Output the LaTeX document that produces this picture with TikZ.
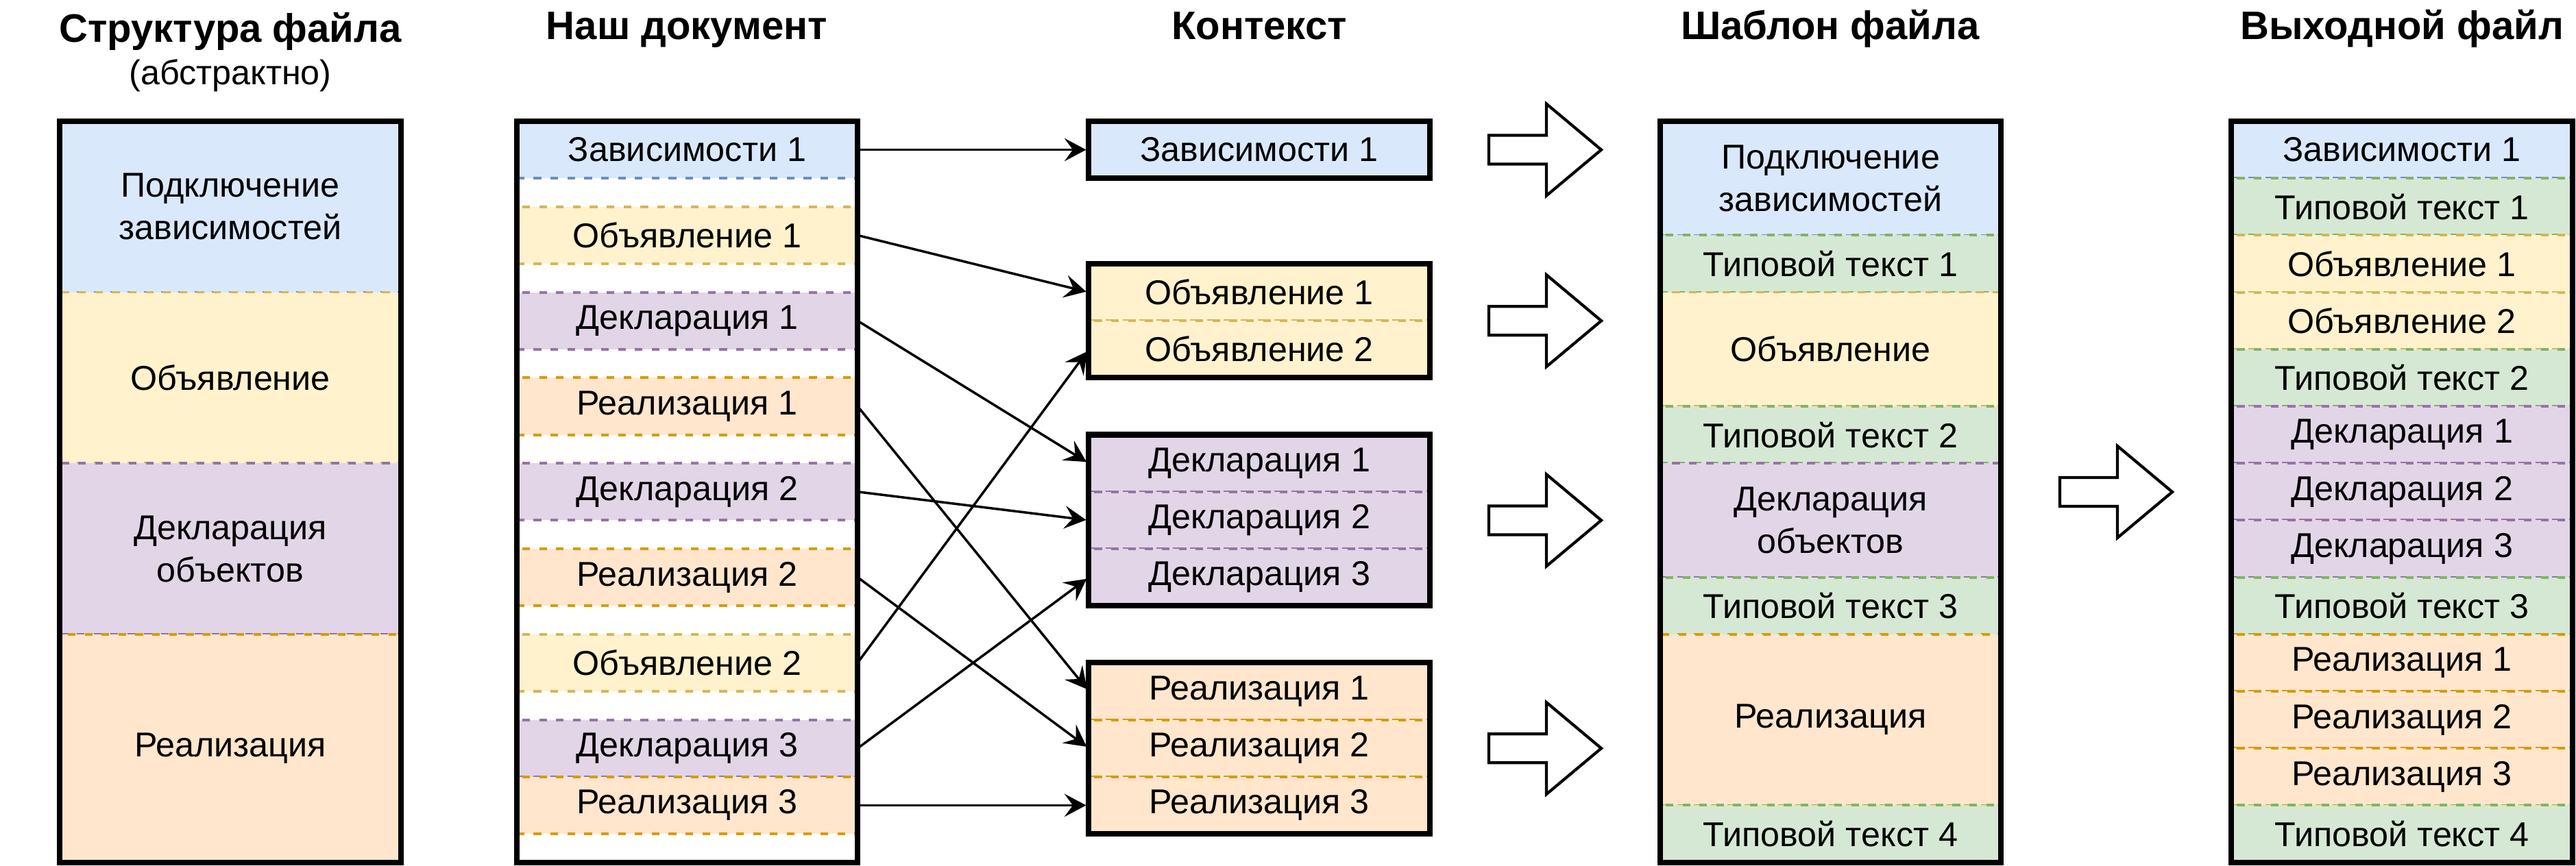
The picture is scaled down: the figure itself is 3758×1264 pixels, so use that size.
\documentclass[tikz,border=0pt]{standalone}
\usepackage{fontspec}
\setmainfont{Liberation Sans}
\usepackage{xcolor}
\usepackage{tikz}
\usetikzlibrary{arrows.meta}
\definecolor{fdep}{HTML}{DAE8FC}
\definecolor{ldep}{HTML}{6C8EBF}
\definecolor{fann}{HTML}{FFF2CC}
\definecolor{lann}{HTML}{D6B656}
\definecolor{fdecl}{HTML}{E1D5E7}
\definecolor{ldecl}{HTML}{9673A6}
\definecolor{fimpl}{HTML}{FFE6CC}
\definecolor{limpl}{HTML}{D79B00}
\definecolor{fboil}{HTML}{D5E8D4}
\definecolor{lboil}{HTML}{82B366}

\begin{document}
\begin{tikzpicture}[x=0.01cm, y=-0.01cm,
    sec/.style={rectangle, draw=l#1, fill=f#1, dash pattern=on 3.2pt off 3.8pt,
                line width=1.1pt, minimum width=4.97cm, inner sep=0pt, outer sep=0pt,
                align=center, font=\fontsize{14.3}{17.6}\selectfont},
    h2/.style={minimum height=0.832cm},
    h4/.style={minimum height=1.664cm},
    h6/.style={minimum height=2.496cm},
    h8/.style={minimum height=3.328cm},
    frame/.style={draw, line width=2.3pt, minimum width=4.97cm, inner sep=0pt},
    title/.style={font=\fontsize{16.5}{19}\selectfont\bfseries, anchor=base},
    link/.style={-{Stealth[length=9pt, width=9.5pt, inset=3.5pt]}, line width=1pt, shorten >=1.1pt},
    fat/.style={draw, line width=1.2pt, fill=white}]
  \useasboundingbox (0,0) rectangle (3758,1264);

  % headings
  \node[title] (h-struct) at (336,62) {Структура файла};
  \node[anchor=base, font=\fontsize{14.3}{17}\selectfont] (h-abstract) at (336,124) {(абстрактно)};
  \node[title] (h-doc) at (1002,58) {Наш документ};
  \node[title] (h-ctx) at (1837,58) {Контекст};
  \node[title] (h-tmpl) at (2670,58) {Шаблон файла};
  \node[title] (h-out) at (3504,58) {Выходной файл};

  % abstract structure
  \node[sec=dep, h6] (s-dep) at (336,301.8) {Подключение\\зависимостей};
  \node[sec=ann, h6] (s-ann) at (336,551.4) {Объявление};
  \node[sec=decl, h6] (s-decl) at (336,801) {Декларация\\объектов};
  \node[sec=impl, h8] (s-impl) at (336,1092.2) {Реализация};
  \node[frame, minimum height=10.82cm] (f-struct) at (336,718) {};

  % our document
  \node[sec=dep, h2] (d-dep1) at (1002.5,218.6) {Зависимости 1};
  \node[sec=ann, h2] (d-ann1) at (1002.5,343.4) {Объявление 1};
  \node[sec=decl, h2] (d-decl1) at (1002.5,468.2) {Декларация 1};
  \node[sec=impl, h2] (d-impl1) at (1002.5,593) {Реализация 1};
  \node[sec=decl, h2] (d-decl2) at (1002.5,717.8) {Декларация 2};
  \node[sec=impl, h2] (d-impl2) at (1002.5,842.6) {Реализация 2};
  \node[sec=ann, h2] (d-ann2) at (1002.5,967.4) {Объявление 2};
  \node[sec=decl, h2] (d-decl3) at (1002.5,1092.2) {Декларация 3};
  \node[sec=impl, h2] (d-impl3) at (1002.5,1175.4) {Реализация 3};
  \node[frame, minimum height=10.82cm] (f-doc) at (1002.5,718) {};

  % context
  \node[sec=dep, h2] (c-dep1) at (1837,218.6) {Зависимости 1};
  \node[frame, h2] (f-cdep) at (1837,218.6) {};
  \node[sec=ann, h2] (c-ann1) at (1837,426.6) {Объявление 1};
  \node[sec=ann, h2] (c-ann2) at (1837,509.8) {Объявление 2};
  \node[frame, h4] (f-cann) at (1837,468.2) {};
  \node[sec=decl, h2] (c-decl1) at (1837,676.2) {Декларация 1};
  \node[sec=decl, h2] (c-decl2) at (1837,759.4) {Декларация 2};
  \node[sec=decl, h2] (c-decl3) at (1837,842.6) {Декларация 3};
  \node[frame, h6] (f-cdecl) at (1837,759.4) {};
  \node[sec=impl, h2] (c-impl1) at (1837,1009) {Реализация 1};
  \node[sec=impl, h2] (c-impl2) at (1837,1092.2) {Реализация 2};
  \node[sec=impl, h2] (c-impl3) at (1837,1175.4) {Реализация 3};
  \node[frame, h6] (f-cimpl) at (1837,1092.2) {};

  % template
  \node[sec=dep, h4] (t-dep) at (2670.5,260.2) {Подключение\\зависимостей};
  \node[sec=boil, h2] (t-boil1) at (2670.5,385) {Типовой текст 1};
  \node[sec=ann, h4] (t-ann) at (2670.5,509.8) {Объявление};
  \node[sec=boil, h2] (t-boil2) at (2670.5,634.6) {Типовой текст 2};
  \node[sec=decl, h4] (t-decl) at (2670.5,759.4) {Декларация\\объектов};
  \node[sec=boil, h2] (t-boil3) at (2670.5,884.2) {Типовой текст 3};
  \node[sec=impl, h6] (t-impl) at (2670.5,1050.6) {Реализация};
  \node[sec=boil, h2] (t-boil4) at (2670.5,1217) {Типовой текст 4};
  \node[frame, minimum height=10.82cm] (f-tmpl) at (2670.5,718) {};

  % output
  \foreach \txt/\kind [count=\i from 0] in {Зависимости 1/dep, Типовой текст 1/boil,
      Объявление 1/ann, Объявление 2/ann, Типовой текст 2/boil, Декларация 1/decl,
      Декларация 2/decl, Декларация 3/decl, Типовой текст 3/boil, Реализация 1/impl,
      Реализация 2/impl, Реализация 3/impl, Типовой текст 4/boil}
    \node[sec=\kind, h2] (o-\i) at (3504,{177+(2*\i+1)*41.6}) {\txt};
  \node[frame, minimum height=10.82cm] (f-out) at (3504,718) {};

  % links
  \draw[link] (d-dep1.east) -- (c-dep1.west);
  \draw[link] (d-ann1.east) -- (c-ann1.west);
  \draw[link] (d-decl1.east) -- (c-decl1.west);
  \draw[link] (d-impl1.east) -- (c-impl1.west);
  \draw[link] (d-decl2.east) -- (c-decl2.west);
  \draw[link] (d-impl2.east) -- (c-impl2.west);
  \draw[link] (d-ann2.east) -- (c-ann2.west);
  \draw[link] (d-decl3.east) -- (c-decl3.west);
  \draw[link] (d-impl3.east) -- (c-impl3.west);

  % block arrows
  \foreach \ay in {218.6, 468.2, 759.4, 1092.2}
    \draw[fat] (2172,\ay) ++(0,-21) -- ++(84,0) -- ++(0,-46) -- ++(80,67)
      -- ++(-80,67) -- ++(0,-46) -- ++(-84,0) -- cycle;
  \draw[fat] (3005,718) ++(0,-21) -- ++(84,0) -- ++(0,-46) -- ++(80,67)
    -- ++(-80,67) -- ++(0,-46) -- ++(-84,0) -- cycle;
\end{tikzpicture}
\end{document}
